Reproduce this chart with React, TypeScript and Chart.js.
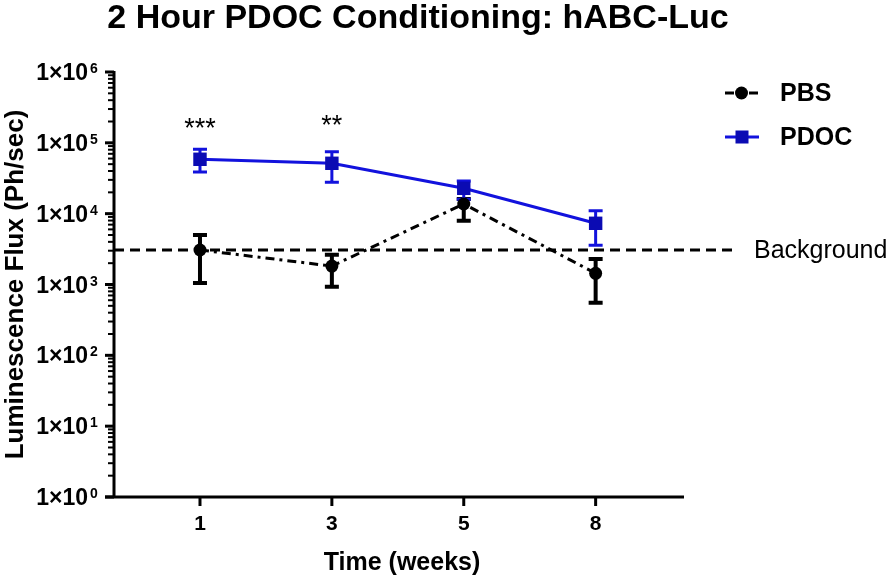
import React, { useEffect, useRef } from 'react';
import { Chart, registerables } from 'chart.js';

Chart.register(...registerables);

// ---------- data ----------
const TITLE = '2 Hour PDOC Conditioning: hABC-Luc';
const X_TITLE = 'Time (weeks)';
const Y_TITLE = 'Luminescence Flux (Ph/sec)';
const WEEK_LABELS = ['1', '3', '5', '8'];
const WEEK_POS = [0, 1, 2, 3];
const SERIES_NAMES = ['PBS', 'PDOC'];
const PBS_MEAN = [3070, 1820, 13700, 1440];
const PBS_HIGH = [5000, 2640, 16100, 2290];
const PBS_LOW = [1050, 930, 7960, 553];
const PDOC_MEAN = [58600, 51400, 22800, 7310];
const PDOC_HIGH = [81100, 75000, 28900, 11000];
const PDOC_LOW = [38700, 27700, 16000, 3570];
const BACKGROUND_VALUE = 3070;
const BACKGROUND_LABEL = 'Background';
const Y_EXPONENTS = [0, 1, 2, 3, 4, 5, 6];
const SIGNIFICANCE = ['***', '**', '', ''];
const SIGNIFICANCE_LEVEL = [122000, 135000, 0, 0];

// ---------- style ----------
const FONT = '"Liberation Sans", Arial, Helvetica, sans-serif';
const BLUE_LINE = '#1212DD';
const BLUE_MARK = '#0B0BB3';

function drawErrorBars(ctx: CanvasRenderingContext2D, xs: any, ys: any, low: number[], high: number[], color: string, lw: number, capW: number) {
  ctx.save();
  ctx.strokeStyle = color;
  ctx.lineWidth = lw;
  ctx.lineCap = 'butt';
  ctx.setLineDash([]);
  WEEK_POS.forEach((p, i) => {
    const px = xs.getPixelForValue(p);
    const yl = ys.getPixelForValue(low[i]);
    const yh = ys.getPixelForValue(high[i]);
    ctx.beginPath();
    ctx.moveTo(px, yl);
    ctx.lineTo(px, yh);
    ctx.moveTo(px - capW / 2, yl);
    ctx.lineTo(px + capW / 2, yl);
    ctx.moveTo(px - capW / 2, yh);
    ctx.lineTo(px + capW / 2, yh);
    ctx.stroke();
  });
  ctx.restore();
}

const decorPlugin = {
  id: 'decor',
  beforeDatasetsDraw(chart: any) {
    const ctx: CanvasRenderingContext2D = chart.ctx;
    const xs = chart.scales.x;
    const ys = chart.scales.y;
    const area = chart.chartArea;
    ctx.save();
    const by = ys.getPixelForValue(BACKGROUND_VALUE);
    ctx.strokeStyle = '#000';
    ctx.lineWidth = 3;
    ctx.setLineDash([10, 6]);
    ctx.beginPath();
    ctx.moveTo(area.left, by);
    ctx.lineTo(area.right + 54, by);
    ctx.stroke();
    ctx.setLineDash([]);
    ctx.restore();
    drawErrorBars(ctx, xs, ys, PBS_LOW, PBS_HIGH, '#000', 4, 14);
    drawErrorBars(ctx, xs, ys, PDOC_LOW, PDOC_HIGH, BLUE_LINE, 3, 14);
  },
  afterDraw(chart: any) {
    const ctx: CanvasRenderingContext2D = chart.ctx;
    const xs = chart.scales.x;
    const ys = chart.scales.y;
    const area = chart.chartArea;
    ctx.save();
    ctx.fillStyle = '#000';
    ctx.strokeStyle = '#000';
    ctx.setLineDash([]);

    // axes
    ctx.lineWidth = 3;
    ctx.beginPath();
    ctx.moveTo(area.left, area.top - 1);
    ctx.lineTo(area.left, area.bottom + 1.5);
    ctx.moveTo(area.left - 9, area.bottom);
    ctx.lineTo(area.right, area.bottom);
    ctx.stroke();

    // y ticks (major + minor) and labels
    Y_EXPONENTS.forEach((k) => {
      const ty = ys.getPixelForValue(Math.pow(10, k));
      ctx.lineWidth = 3;
      ctx.beginPath();
      ctx.moveTo(area.left - 9, ty);
      ctx.lineTo(area.left, ty);
      ctx.stroke();
      if (k < Y_EXPONENTS[Y_EXPONENTS.length - 1]) {
        for (let m = 2; m <= 9; m++) {
          const my = ys.getPixelForValue(m * Math.pow(10, k));
          ctx.lineWidth = 2;
          ctx.beginPath();
          ctx.moveTo(area.left - 6, my);
          ctx.lineTo(area.left, my);
          ctx.stroke();
        }
      }
      ctx.font = `bold 23px ${FONT}`;
      ctx.textAlign = 'right';
      ctx.textBaseline = 'alphabetic';
      ctx.fillText('1\u00D710', 88, ty + 8);
      ctx.font = `bold 14px ${FONT}`;
      ctx.textAlign = 'left';
      ctx.fillText(String(k), 90, ty + 1);
    });

    // x ticks, labels, significance marks
    WEEK_POS.forEach((p, i) => {
      const tx = xs.getPixelForValue(p);
      ctx.lineWidth = 3;
      ctx.beginPath();
      ctx.moveTo(tx, area.bottom);
      ctx.lineTo(tx, area.bottom + 9);
      ctx.stroke();
      ctx.font = `bold 21px ${FONT}`;
      ctx.textAlign = 'center';
      ctx.textBaseline = 'alphabetic';
      ctx.fillText(WEEK_LABELS[i], tx, area.bottom + 33);
      if (SIGNIFICANCE[i]) {
        ctx.font = `27px ${FONT}`;
        ctx.fillText(SIGNIFICANCE[i], tx, ys.getPixelForValue(SIGNIFICANCE_LEVEL[i]));
      }
    });

    // axis titles
    ctx.font = `bold 25px ${FONT}`;
    ctx.textAlign = 'center';
    ctx.textBaseline = 'alphabetic';
    ctx.fillText(X_TITLE, (area.left + area.right) / 2 + 3, 570);
    ctx.save();
    ctx.font = `bold 26px ${FONT}`;
    ctx.translate(23, (area.top + area.bottom) / 2);
    ctx.rotate(-Math.PI / 2);
    ctx.fillText(Y_TITLE, 0, 0);
    ctx.restore();

    // title
    ctx.font = `bold 34px ${FONT}`;
    ctx.textAlign = 'center';
    ctx.fillText(TITLE, 418, 28);

    // legend
    const lx = 725;
    const ly0 = 93;
    const ly1 = 137;
    ctx.lineWidth = 3;
    ctx.strokeStyle = '#000';
    ctx.beginPath();
    ctx.moveTo(lx, ly0);
    ctx.lineTo(lx + 9, ly0);
    ctx.moveTo(lx + 24, ly0);
    ctx.lineTo(lx + 33, ly0);
    ctx.stroke();
    ctx.beginPath();
    ctx.arc(lx + 16.5, ly0, 6.5, 0, Math.PI * 2);
    ctx.fill();
    ctx.strokeStyle = BLUE_LINE;
    ctx.beginPath();
    ctx.moveTo(lx, ly1);
    ctx.lineTo(lx + 34, ly1);
    ctx.stroke();
    ctx.fillStyle = BLUE_MARK;
    ctx.fillRect(lx + 17 - 6.5, ly1 - 6.5, 13, 13);
    ctx.fillStyle = '#000';
    ctx.font = `bold 25px ${FONT}`;
    ctx.textAlign = 'left';
    ctx.textBaseline = 'middle';
    ctx.fillText(SERIES_NAMES[0], 780, ly0 + 1);
    ctx.fillText(SERIES_NAMES[1], 780, ly1 + 1);

    // background label
    ctx.font = `25px ${FONT}`;
    ctx.fillText(BACKGROUND_LABEL, 754, ys.getPixelForValue(BACKGROUND_VALUE) + 1);

    ctx.restore();
  },
};

export default function App() {
  const ref = useRef<HTMLCanvasElement | null>(null);
  useEffect(() => {
    if (!ref.current) return;
    const chart = new Chart(ref.current, {
      type: 'line',
      data: {
        datasets: [
          {
            label: SERIES_NAMES[0],
            data: WEEK_POS.map((p, i) => ({ x: p, y: PBS_MEAN[i] })),
            borderColor: '#000',
            backgroundColor: '#000',
            borderWidth: 3,
            borderDash: [9, 5, 3, 5],
            pointStyle: 'circle',
            pointRadius: 6.5,
            pointBackgroundColor: '#000',
            pointBorderColor: '#000',
            pointBorderWidth: 0,
            order: 2,
            tension: 0,
          },
          {
            label: SERIES_NAMES[1],
            data: WEEK_POS.map((p, i) => ({ x: p, y: PDOC_MEAN[i] })),
            borderColor: BLUE_LINE,
            backgroundColor: BLUE_MARK,
            borderWidth: 3,
            pointStyle: 'rect',
            pointRadius: 9.5,
            pointBackgroundColor: BLUE_MARK,
            pointBorderColor: BLUE_MARK,
            pointBorderWidth: 0,
            order: 1,
            tension: 0,
          },
        ],
      },
      options: {
        animation: false,
        responsive: false,
        maintainAspectRatio: false,
        layout: { padding: { left: 114, right: 210, top: 72, bottom: 82 } },
        scales: {
          x: { type: 'linear', min: -0.652, max: 3.67, display: false },
          y: { type: 'logarithmic', min: 1, max: 1e6, display: false },
        },
        plugins: {
          legend: { display: false },
          title: { display: false },
          tooltip: { enabled: false },
        },
        events: [],
      },
      plugins: [decorPlugin],
    });
    return () => chart.destroy();
  }, []);
  return (
    <div style={{ position: 'fixed', left: 0, top: 0, width: 894, height: 579, background: '#fff' }}>
      <canvas ref={ref} width={894} height={579} style={{ width: 894, height: 579, display: 'block' }} />
    </div>
  );
}
